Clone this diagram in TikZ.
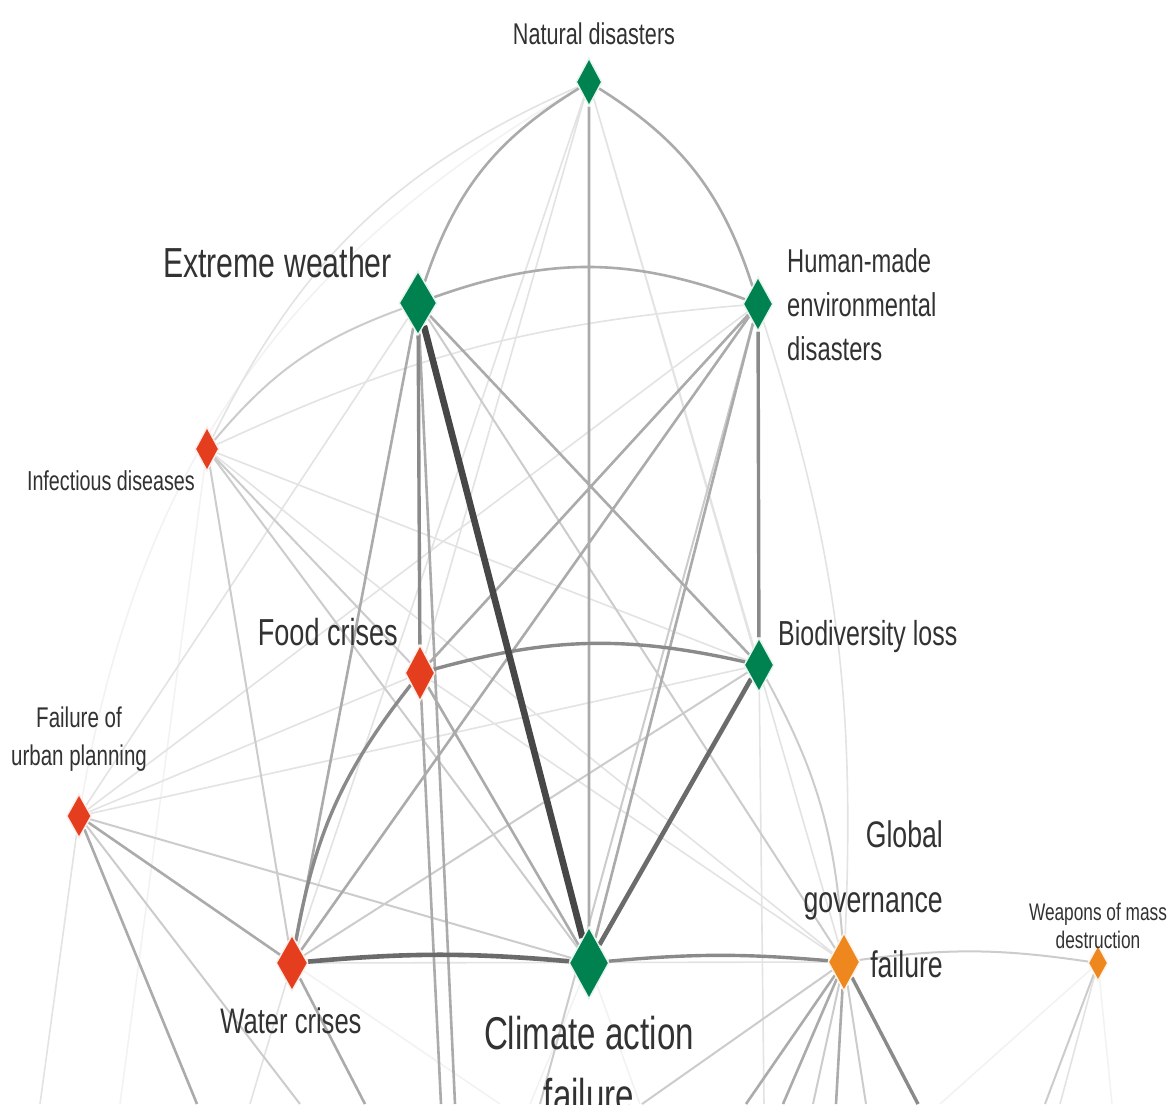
\documentclass[tikz,border=0pt]{standalone}
\usepackage{fontspec}
\newfontfamily\riskfont{Liberation Sans}[FakeStretch=0.72]
\usepackage{tikz}
\usetikzlibrary{
    shapes.geometric,
    backgrounds,
}
\definecolor{envgreen}{RGB}{0,130,80}
\definecolor{socred}{RGB}{228,62,30}
\definecolor{geoorange}{RGB}{238,135,30}
\definecolor{tagtext}{RGB}{50,50,50}
\tikzset{
    riskweb/.style={
        x=1pt, y=1pt,
        risk/.style={diamond, inner sep=0pt, line width=1.4pt},
        environmental/.style={risk, fill=envgreen, draw=envgreen!10},
        societal/.style={risk, fill=socred, draw=socred!10},
        geopolitical/.style={risk, fill=geoorange, draw=geoorange!10},
        tag/.style 2 args={text=tagtext, inner sep=0pt, font=\riskfont\fontsize{##1}{##2}\selectfont},
        link0/.style={draw=black!5, line width=1.5pt},
        link1/.style={draw=black!11, line width=1.6pt},
        link2/.style={draw=black!20, line width=2pt},
        link3/.style={draw=black!33, line width=2.6pt},
        link4/.style={draw=black!46, line width=3.4pt},
        link5/.style={draw=black!58, line width=4.6pt},
        link6/.style={draw=black!72, line width=6.6pt},
    },
}

\begin{document}
\begin{tikzpicture}[riskweb]
    \useasboundingbox (0,0) rectangle (1170,-1104);

    % risks
    \node[environmental, minimum width=26pt, minimum height=48pt] (ND) at (589,-82) {};
    \node[environmental, minimum width=38pt, minimum height=64pt] (EW) at (418,-303) {};
    \node[environmental, minimum width=30pt, minimum height=54pt] (HM) at (758,-304) {};
    \node[societal, minimum width=24pt, minimum height=44pt] (ID) at (207,-449) {};
    \node[societal, minimum width=30pt, minimum height=56pt] (FC) at (420,-673) {};
    \node[environmental, minimum width=30pt, minimum height=54pt] (BL) at (759,-665) {};
    \node[societal, minimum width=25pt, minimum height=44pt] (UP) at (79,-816) {};
    \node[societal, minimum width=32pt, minimum height=56pt] (WC) at (292,-963) {};
    \node[environmental, minimum width=40pt, minimum height=72pt] (CA) at (589,-963) {};
    \node[geopolitical, minimum width=32pt, minimum height=58pt] (GG) at (844,-962) {};
    \node[geopolitical, minimum width=20pt, minimum height=36pt] (WM) at (1098,-963) {};

    % labels
    \node[tag={30}{34}, anchor=base] (ND-tag) at (594,-44) {Natural disasters};
    \node[tag={42}{46}, anchor=base east] (EW-tag) at (392,-277) {Extreme weather};
    \node[tag={33}{44}, anchor=north west, align=left] (HM-tag) at (787,-248) {Human-made\\environmental\\disasters};
    \node[tag={27.4}{30}, anchor=base east] (ID-tag) at (195,-490) {Infectious diseases};
    \node[tag={37.6}{40}, anchor=base east] (FC-tag) at (398,-645) {Food crises};
    \node[tag={34.7}{38}, anchor=base west] (BL-tag) at (778,-645) {Biodiversity loss};
    \node[tag={28.5}{38}, anchor=north, align=center] (UP-tag) at (79,-707) {Failure of\\urban planning};
    \node[tag={35.5}{38}, anchor=base] (WC-tag) at (291,-1033) {Water crises};
    \node[tag={46}{62}, anchor=north, align=center] (CA-tag) at (589,-1016) {Climate action\\failure};
    \node[tag={37}{65}, anchor=north east, align=right] (GG-tag) at (943,-820) {Global\\governance\\failure};
    \node[tag={24}{28}, anchor=north, align=center] (WM-tag) at (1098,-903) {Weapons of mass\\destruction};

    % ties to risks below the cut
    \coordinate (exit1) at (40,-1104);
    \coordinate (exit2) at (197,-1104);
    \coordinate (exit3) at (300,-1104);
    \coordinate (exit4) at (250,-1104);
    \coordinate (exit5) at (365,-1104);
    \coordinate (exit6) at (500,-1104);
    \coordinate (exit7) at (441,-1104);
    \coordinate (exit8) at (455,-1104);
    \coordinate (exit9) at (530,-1104);
    \coordinate (exit10) at (640,-1104);
    \coordinate (exit11) at (642,-1104);
    \coordinate (exit12) at (746,-1104);
    \coordinate (exit13) at (783,-1104);
    \coordinate (exit14) at (813,-1104);
    \coordinate (exit15) at (836,-1104);
    \coordinate (exit16) at (866,-1104);
    \coordinate (exit17) at (918,-1104);
    \coordinate (exit18) at (940,-1104);
    \coordinate (exit19) at (1045,-1104);
    \coordinate (exit20) at (1060,-1104);
    \coordinate (exit21) at (1112,-1104);
    \coordinate (exit22) at (120,-1104);
    \coordinate (exit23) at (764,-1104);
    \coordinate (exit24) at (540,-1104);

    \begin{pgfonlayer}{background}
        \fill[white] (0,0) rectangle (1170,-1104);
        % faint ties
        \draw[link0] (UP) to[bend left=25] (ND);
        \draw[link0] (ID) -- (exit22) (CA) -- (exit9) (CA) -- (exit10) (WC) -- (exit6) (WM) -- (exit18) (WM) -- (exit21);
        \draw[link1] (ID) to[bend left=20] (ND);
        \draw[link1] (ID) to[bend left=10] (HM);
        \draw[link1] (HM) to[bend left=10] (GG);
        \draw[link1] (ND) -- (FC) (ND) -- (BL) (ND) -- (WC) (ND) -- (GG)
            (ID) -- (BL) (ID) -- (GG) (UP) -- (FC) (UP) -- (BL)
            (EW) -- (UP) (HM) -- (UP) (WC) -- (GG) (FC) -- (GG)
            (UP) -- (exit1) (WC) -- (exit4) (BL) -- (exit23) (WM) -- (exit20);
        \draw[link2] (ID) to[bend left=15] (EW);
        \draw[link2] (BL) to[bend left=12] (GG);
        \draw[link2] (GG) to[bend left=8] (WM);
        \draw[link2] (EW) -- (GG) (BL) -- (WC) (ID) -- (WC) (ID) -- (FC)
            (ID) -- (CA) (UP) -- (CA) (HM) -- (exit24)
            (UP) -- (exit3) (GG) -- (exit11) (GG) -- (exit14) (GG) -- (exit16) (WM) -- (exit19);
        % stronger ties
        \draw[link3] (EW) to[bend left=20] (HM);
        \draw[link3] (ND) to[bend right=20] (EW);
        \draw[link3] (ND) to[bend left=20] (HM);
        \draw[link3] (ND) -- (CA) (EW) -- (WC) (FC) -- (CA) (UP) -- (WC)
            (HM) -- (CA) (HM) -- (WC) (HM) -- (FC) (EW) -- (BL)
            (UP) -- (exit2) (WC) -- (exit5) (FC) -- (exit7) (EW) -- (exit8)
            (GG) -- (exit12) (GG) -- (exit13) (GG) -- (exit15);
        \draw[link4] (FC) to[bend left=14] (BL);
        \draw[link4] (WC) to[bend left=14] (FC);
        \draw[link4] (CA) to[bend left=5] (GG);
        \draw[link4] (EW) -- (FC) (HM) -- (BL) (GG) -- (exit17);
        \draw[link5] (WC) to[bend left=5] (CA);
        \draw[link5] (BL) -- (CA);
        \draw[link6] (EW) -- (CA);
    \end{pgfonlayer}
\end{tikzpicture}
\end{document}
